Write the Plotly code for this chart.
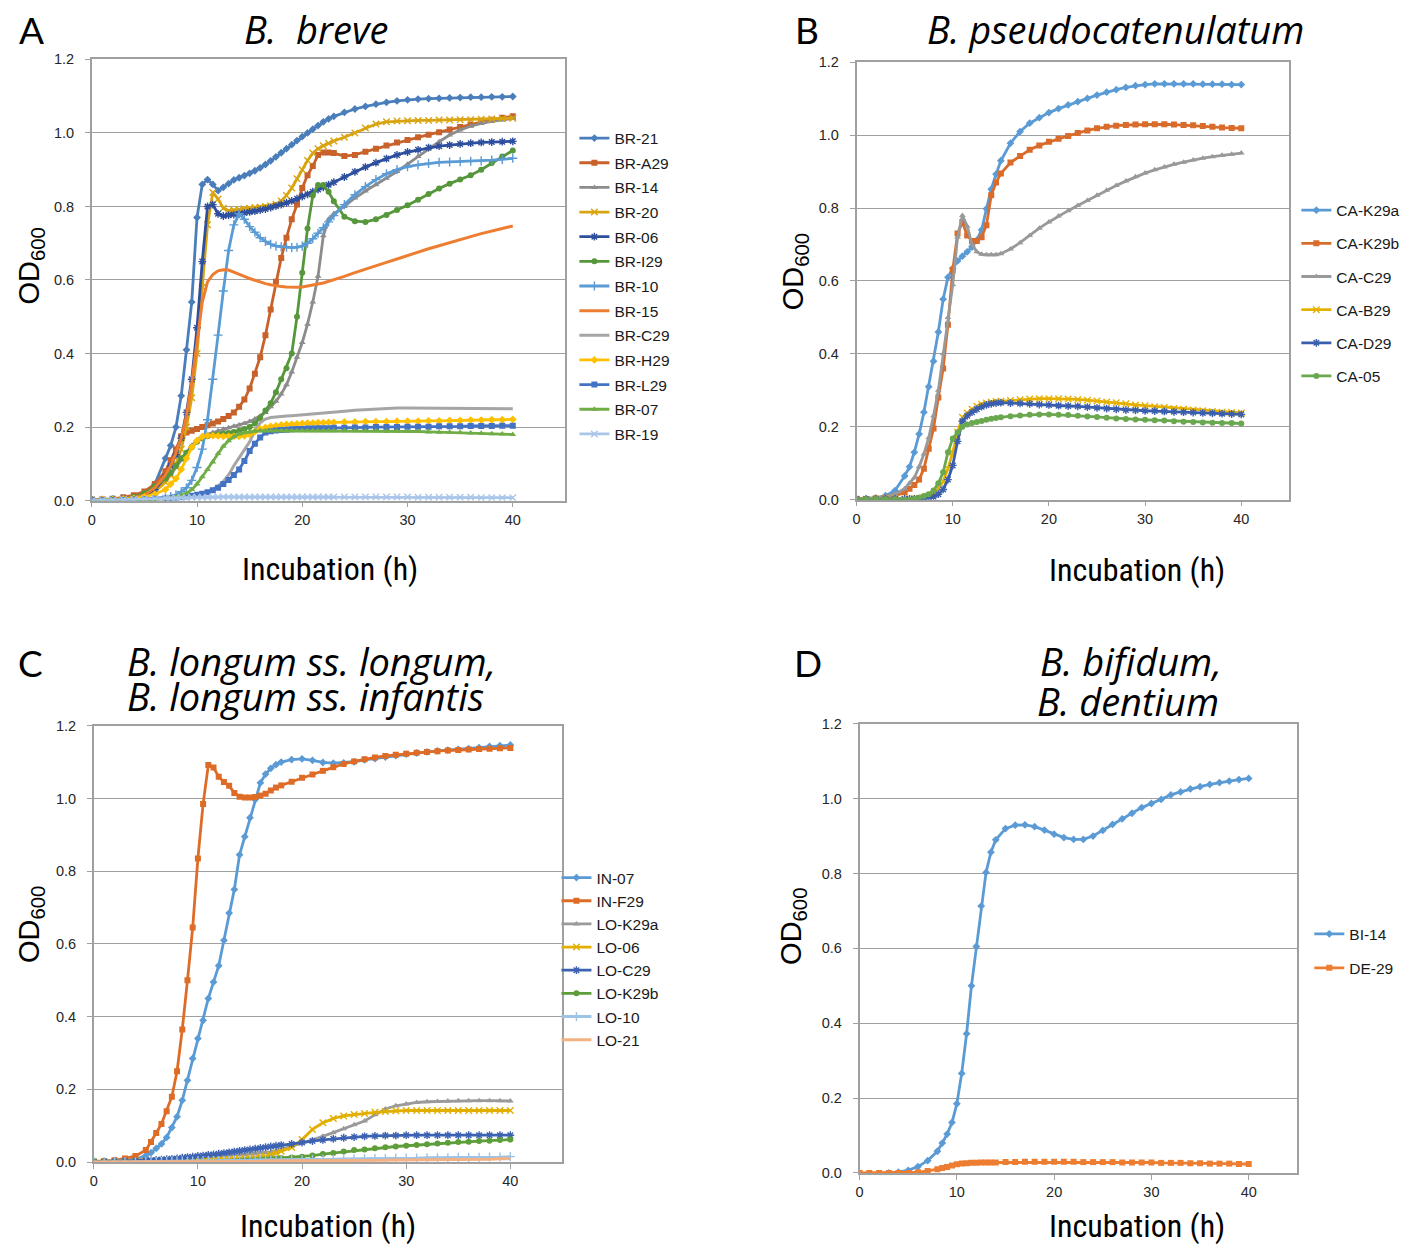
import plotly.graph_objects as go

W, H = 1418, 1257

# ---------------- Panel A: B. breve ----------------
T_A = [0, 1, 2, 3, 4, 5, 6, 7, 7.5, 8, 8.5, 9, 9.5, 10, 10.5, 11, 11.5, 12, 12.5, 13, 13.5, 14, 14.5, 15,
       15.5, 16, 16.5, 17, 17.5, 18, 18.5, 19, 19.5, 20, 20.5, 21, 21.5, 22, 22.5, 23,
       24, 25, 26, 27, 28, 29, 30, 31, 32, 33, 34, 35, 36, 37, 38, 39, 40]
BR_21 = [0.002, 0.002, 0.003, 0.005, 0.009, 0.02, 0.045, 0.115,
         0.15, 0.2, 0.285, 0.41, 0.54, 0.77, 0.86, 0.873, 0.86, 0.843, 0.852, 0.862, 0.872, 0.878, 0.884, 0.89,
         0.897, 0.905, 0.914, 0.924, 0.935, 0.946, 0.957, 0.968, 0.979, 0.99, 1.0, 1.01, 1.02, 1.03, 1.038, 1.045,
         1.056, 1.065, 1.072, 1.078, 1.083, 1.087, 1.09, 1.092, 1.093, 1.094, 1.095, 1.096, 1.097, 1.097, 1.098, 1.098, 1.099]
BR_A29 = [0.003, 0.003, 0.005, 0.009, 0.015, 0.025, 0.045, 0.08,
          0.11, 0.14, 0.175, 0.185, 0.19, 0.195, 0.2, 0.205, 0.21, 0.215, 0.222, 0.23, 0.24, 0.255, 0.275, 0.305,
          0.345, 0.39, 0.45, 0.52, 0.595, 0.66, 0.715, 0.765, 0.805, 0.85, 0.885, 0.91, 0.94, 0.947, 0.947, 0.945,
          0.937, 0.94, 0.949, 0.957, 0.966, 0.974, 0.981, 0.988, 0.995, 1.002, 1.009, 1.016, 1.023, 1.03, 1.036, 1.041, 1.045]
BR_14 = [0.002, 0.002, 0.003, 0.005, 0.008, 0.015, 0.03, 0.055,
         0.07, 0.09, 0.11, 0.13, 0.15, 0.165, 0.175, 0.18, 0.185, 0.19, 0.194, 0.198, 0.202, 0.206, 0.21, 0.215,
         0.222, 0.23, 0.24, 0.255, 0.27, 0.29, 0.315, 0.35, 0.39, 0.43, 0.48, 0.54, 0.61, 0.72, 0.765, 0.78,
         0.8, 0.823, 0.842, 0.859, 0.877, 0.895, 0.915, 0.936, 0.956, 0.976, 0.994, 1.008, 1.018, 1.026, 1.031, 1.035, 1.039]
BR_20 = [0.002, 0.002, 0.003, 0.004, 0.007, 0.013, 0.025, 0.05,
         0.07, 0.1, 0.14, 0.2, 0.28, 0.4, 0.58, 0.75, 0.838, 0.82, 0.795, 0.788, 0.79, 0.792, 0.794, 0.795,
         0.797, 0.798, 0.8, 0.802, 0.806, 0.815, 0.83, 0.85, 0.875, 0.9, 0.925, 0.945, 0.957, 0.965, 0.972, 0.978,
         0.988, 1.0, 1.013, 1.024, 1.03, 1.032, 1.033, 1.034, 1.034, 1.035, 1.035, 1.036, 1.036, 1.037, 1.038, 1.039, 1.04]
BR_06 = [0.002, 0.002, 0.003, 0.005, 0.008, 0.015, 0.03, 0.065,
         0.095, 0.125, 0.17, 0.24, 0.33, 0.47, 0.65, 0.8, 0.805, 0.78, 0.774, 0.776, 0.778, 0.78, 0.782, 0.785,
         0.787, 0.79, 0.793, 0.797, 0.801, 0.805, 0.81, 0.815, 0.821, 0.827, 0.833, 0.84, 0.846, 0.852, 0.859, 0.866,
         0.88, 0.894, 0.907, 0.919, 0.93, 0.94, 0.948, 0.954, 0.96, 0.964, 0.967, 0.97, 0.972, 0.974, 0.975, 0.976, 0.977]
BR_I29 = [0.002, 0.002, 0.003, 0.005, 0.01, 0.02, 0.04, 0.06,
          0.075, 0.095, 0.115, 0.13, 0.145, 0.16, 0.17, 0.175, 0.178, 0.18, 0.182, 0.184, 0.187, 0.19, 0.195, 0.2,
          0.21, 0.225, 0.245, 0.265, 0.295, 0.33, 0.36, 0.4, 0.5, 0.62, 0.74, 0.83, 0.858, 0.858, 0.84, 0.814,
          0.772, 0.76, 0.758, 0.765, 0.777, 0.79, 0.803, 0.818, 0.834, 0.849, 0.862, 0.873, 0.885, 0.9, 0.918, 0.936, 0.952]
BR_10 = [0.001, 0.001, 0.002, 0.002, 0.003, 0.004, 0.006, 0.008,
         0.011, 0.016, 0.024, 0.035, 0.055, 0.09, 0.14, 0.22, 0.33, 0.45, 0.57, 0.68, 0.75, 0.78, 0.765, 0.745,
         0.73, 0.715, 0.705, 0.697, 0.692, 0.69, 0.689, 0.688, 0.689, 0.692, 0.7, 0.712, 0.727, 0.742, 0.758, 0.775,
         0.805, 0.832, 0.854, 0.873, 0.889, 0.9, 0.908, 0.913, 0.917, 0.92, 0.921, 0.922, 0.923, 0.924, 0.926, 0.928, 0.931]
BR_15 = [0.002, 0.002, 0.003, 0.005, 0.008, 0.015, 0.035, 0.07,
         0.095, 0.13, 0.17, 0.23, 0.32, 0.43, 0.54, 0.595, 0.615, 0.625, 0.628, 0.627, 0.622, 0.616, 0.61, 0.604,
         0.599, 0.594, 0.59, 0.587, 0.584, 0.582, 0.581, 0.58, 0.58, 0.581, 0.583, 0.586, 0.589, 0.592, 0.596, 0.6,
         0.61, 0.62, 0.63, 0.639, 0.648, 0.657, 0.667, 0.676, 0.685, 0.693, 0.702, 0.71, 0.718, 0.726, 0.733, 0.74, 0.747]
BR_C29 = [0.001, 0.001, 0.001, 0.002, 0.002, 0.003, 0.004, 0.005,
          0.006, 0.007, 0.008, 0.009, 0.01, 0.012, 0.016, 0.022, 0.03, 0.04, 0.052, 0.07, 0.095, 0.118, 0.138, 0.16,
          0.19, 0.212, 0.222, 0.226, 0.228, 0.229, 0.23, 0.231, 0.232, 0.233, 0.235, 0.236, 0.238, 0.239, 0.24, 0.241,
          0.243, 0.246, 0.248, 0.25, 0.251, 0.252, 0.252, 0.252, 0.252, 0.252, 0.252, 0.251, 0.251, 0.251, 0.25, 0.25, 0.25]
BR_H29 = [0.001, 0.002, 0.003, 0.004, 0.006, 0.01, 0.018, 0.03,
          0.045, 0.06, 0.085, 0.115, 0.145, 0.163, 0.174, 0.177, 0.177, 0.176, 0.175, 0.175, 0.175, 0.175, 0.176, 0.18,
          0.188, 0.195, 0.199, 0.202, 0.204, 0.206, 0.207, 0.208, 0.209, 0.21, 0.211, 0.211, 0.212, 0.212, 0.213, 0.213,
          0.214, 0.214, 0.215, 0.215, 0.215, 0.216, 0.216, 0.216, 0.217, 0.217, 0.218, 0.218, 0.219, 0.219, 0.22, 0.22, 0.221]
BR_L29 = [0.001, 0.001, 0.002, 0.002, 0.003, 0.004, 0.005, 0.006,
          0.007, 0.008, 0.009, 0.011, 0.013, 0.016, 0.019, 0.023, 0.028, 0.035, 0.045, 0.056, 0.07, 0.085, 0.108, 0.135,
          0.155, 0.172, 0.185, 0.189, 0.191, 0.192, 0.193, 0.194, 0.195, 0.195, 0.196, 0.196, 0.197, 0.197, 0.197, 0.198,
          0.198, 0.199, 0.199, 0.2, 0.2, 0.2, 0.201, 0.201, 0.201, 0.202, 0.202, 0.202, 0.203, 0.203, 0.203, 0.204, 0.204]
BR_07 = [0.0, 0.0, 0.001, 0.001, 0.002, 0.002, 0.003, 0.005,
         0.007, 0.01, 0.014, 0.02, 0.03, 0.045, 0.065, 0.085, 0.105, 0.128, 0.148, 0.163, 0.174, 0.181, 0.185, 0.187,
         0.189, 0.19, 0.19, 0.19, 0.19, 0.19, 0.19, 0.19, 0.19, 0.19, 0.19, 0.19, 0.19, 0.19, 0.19, 0.19,
         0.19, 0.19, 0.19, 0.19, 0.189, 0.189, 0.188, 0.188, 0.187, 0.186, 0.186, 0.185, 0.184, 0.183, 0.182, 0.181, 0.18]
BR_19 = [0.0, 0.001, 0.002, 0.003, 0.004, 0.005, 0.006, 0.007,
         0.007, 0.008, 0.008, 0.008, 0.009, 0.009, 0.009, 0.009, 0.01, 0.01, 0.01, 0.01, 0.01, 0.01, 0.01, 0.01,
         0.01, 0.01, 0.01, 0.01, 0.01, 0.01, 0.01, 0.01, 0.01, 0.01, 0.01, 0.01, 0.01, 0.01, 0.01, 0.01,
         0.01, 0.01, 0.01, 0.01, 0.01, 0.01, 0.01, 0.009, 0.009, 0.009, 0.009, 0.009, 0.009, 0.008, 0.008, 0.008, 0.008]

# ---------------- Panel B: B. pseudocatenulatum ----------------
T_B = [0, 1, 2, 3, 4, 5, 5.5, 6, 6.5, 7, 7.5, 8, 8.5, 9, 9.5, 10, 10.5, 11, 11.5, 12, 12.5, 13, 13.5, 14, 14.5, 15,
       16, 17, 18, 19, 20, 21, 22, 23, 24, 25, 26, 27, 28, 29, 30, 31, 32, 33, 34, 35, 36, 37, 38, 39, 40]
CA_K29a = [0.002, 0.003, 0.005, 0.011, 0.025, 0.065,
           0.09, 0.13, 0.18, 0.24, 0.31, 0.38, 0.46, 0.55, 0.61, 0.635, 0.655, 0.668, 0.68, 0.693, 0.712, 0.74, 0.798, 0.852, 0.893, 0.93,
           0.978, 1.01, 1.033, 1.048, 1.062, 1.073, 1.083, 1.092, 1.101, 1.11, 1.118, 1.125, 1.131, 1.136, 1.139,
           1.141, 1.141, 1.141, 1.141, 1.141, 1.14, 1.14, 1.14, 1.139, 1.139]
CA_K29b = [0.002, 0.002, 0.003, 0.005, 0.01, 0.02,
           0.03, 0.04, 0.055, 0.085, 0.14, 0.195, 0.28, 0.36, 0.48, 0.63, 0.73, 0.762, 0.725, 0.71, 0.71, 0.72, 0.753, 0.835, 0.87, 0.895,
           0.925, 0.943, 0.96, 0.972, 0.982, 0.99, 0.998, 1.006, 1.013, 1.019, 1.023, 1.026, 1.028, 1.029, 1.03,
           1.03, 1.03, 1.029, 1.028, 1.027, 1.025, 1.023, 1.021, 1.02, 1.019]
CA_C29 = [0.002, 0.003, 0.005, 0.008, 0.015, 0.03,
          0.045, 0.06, 0.09, 0.125, 0.17, 0.23, 0.3, 0.4, 0.5, 0.59, 0.72, 0.78, 0.75, 0.7, 0.68, 0.673, 0.672, 0.672, 0.672, 0.675,
          0.688, 0.705, 0.725, 0.745, 0.762, 0.778, 0.793, 0.807, 0.821, 0.835, 0.849, 0.862, 0.874, 0.886, 0.896,
          0.905, 0.913, 0.92, 0.926, 0.932, 0.937, 0.941, 0.945, 0.948, 0.951]
CA_B29 = [0.001, 0.001, 0.002, 0.002, 0.002, 0.002,
          0.002, 0.003, 0.004, 0.006, 0.01, 0.015, 0.03, 0.05, 0.085, 0.13, 0.185, 0.226, 0.238, 0.248, 0.256, 0.262, 0.265, 0.267, 0.269, 0.27,
          0.272, 0.274, 0.276, 0.277, 0.277, 0.277, 0.276, 0.275, 0.273, 0.271, 0.268, 0.266, 0.263, 0.26, 0.258,
          0.255, 0.253, 0.25, 0.248, 0.246, 0.244, 0.242, 0.24, 0.239, 0.238]
CA_D29 = [0.001, 0.001, 0.001, 0.002, 0.002, 0.002,
          0.002, 0.002, 0.003, 0.004, 0.006, 0.008, 0.015, 0.028, 0.055, 0.094, 0.16, 0.215, 0.23, 0.24, 0.248, 0.255, 0.26, 0.263, 0.265, 0.266,
          0.265, 0.264, 0.263, 0.261, 0.26, 0.258, 0.257, 0.256, 0.254, 0.252, 0.25, 0.248, 0.246, 0.245, 0.244,
          0.243, 0.242, 0.241, 0.24, 0.239, 0.238, 0.237, 0.236, 0.235, 0.234]
CA_05 = [0.001, 0.001, 0.001, 0.001, 0.001, 0.0,
         0.0, 0.002, 0.005, 0.01, 0.015, 0.025, 0.045, 0.075, 0.13, 0.168, 0.185, 0.2, 0.206, 0.21, 0.213, 0.216, 0.219, 0.222, 0.224, 0.226,
         0.229, 0.231, 0.233, 0.234, 0.234, 0.233, 0.232, 0.23, 0.228, 0.227, 0.225, 0.223, 0.221, 0.22, 0.219,
         0.218, 0.217, 0.215, 0.214, 0.213, 0.212, 0.211, 0.21, 0.21, 0.209]

# ---------------- Panel C: B. longum ----------------
T_C = [0, 1, 2, 3, 4, 5, 5.5, 6, 6.5, 7, 7.5, 8, 8.5, 9, 9.5, 10, 10.5, 11, 11.5, 12, 12.5, 13, 13.5, 14, 14.5, 15,
       15.5, 16, 16.5, 17, 17.5, 18, 19, 20, 21, 22, 23, 24, 25, 26, 27, 28, 29, 30, 31, 32, 33, 34, 35, 36, 37, 38, 39, 40]
IN_07 = [0.002, 0.002, 0.003, 0.005, 0.008, 0.018,
         0.026, 0.038, 0.05, 0.068, 0.095, 0.125, 0.17, 0.225, 0.285, 0.34, 0.39, 0.45, 0.495, 0.54, 0.61, 0.685, 0.75, 0.845, 0.895, 0.947,
         0.997, 1.043, 1.067, 1.083, 1.093, 1.1,
         1.107, 1.109, 1.105, 1.099, 1.097, 1.098, 1.101, 1.106, 1.11, 1.114, 1.118, 1.122, 1.125, 1.128, 1.131,
         1.133, 1.135, 1.137, 1.14, 1.143, 1.145, 1.147]
IN_F29 = [0.002, 0.003, 0.005, 0.01, 0.017, 0.033,
          0.055, 0.08, 0.105, 0.14, 0.18, 0.25, 0.365, 0.5, 0.645, 0.835, 0.985, 1.092, 1.085, 1.06, 1.045, 1.035, 1.015, 1.005, 1.003, 1.003,
          1.004, 1.008, 1.013, 1.022, 1.03, 1.036,
          1.046, 1.057, 1.066, 1.076, 1.086, 1.095, 1.102, 1.108, 1.113, 1.117, 1.12, 1.123, 1.126, 1.128, 1.13,
          1.132, 1.133, 1.135, 1.136, 1.137, 1.138, 1.139]
LO_K29a = [0.001, 0.002, 0.003, 0.004, 0.005, 0.006,
           0.006, 0.007, 0.007, 0.008, 0.009, 0.009, 0.01, 0.011, 0.012, 0.013, 0.014, 0.015, 0.016, 0.017, 0.018, 0.019, 0.02, 0.02, 0.021, 0.022,
           0.023, 0.025, 0.026, 0.028, 0.031, 0.035,
           0.044, 0.052, 0.061, 0.071, 0.081, 0.092, 0.103, 0.113, 0.13, 0.146, 0.155, 0.16, 0.164, 0.166, 0.167,
           0.168, 0.169, 0.169, 0.169, 0.169, 0.169, 0.168]
LO_06 = [0.0, 0.001, 0.001, 0.002, 0.002, 0.003,
         0.003, 0.003, 0.004, 0.004, 0.004, 0.005, 0.005, 0.005, 0.006, 0.006, 0.006, 0.007, 0.007, 0.007, 0.008, 0.008, 0.008, 0.009, 0.01, 0.011,
         0.012, 0.014, 0.016, 0.02, 0.025, 0.03,
         0.04, 0.062, 0.09, 0.108, 0.12, 0.127, 0.131, 0.134, 0.137, 0.139, 0.141, 0.142, 0.142, 0.142, 0.142,
         0.142, 0.142, 0.142, 0.142, 0.142, 0.142, 0.142]
LO_C29 = [0.001, 0.001, 0.002, 0.003, 0.004, 0.005,
          0.005, 0.006, 0.007, 0.008, 0.009, 0.01, 0.012, 0.014, 0.015, 0.017, 0.018, 0.02, 0.021, 0.023, 0.025, 0.027, 0.029, 0.031, 0.033, 0.035,
          0.037, 0.039, 0.041, 0.043, 0.045, 0.047,
          0.05, 0.054, 0.058, 0.061, 0.064, 0.067, 0.069, 0.071, 0.072, 0.073, 0.073, 0.074, 0.074, 0.074, 0.074,
          0.074, 0.074, 0.074, 0.074, 0.074, 0.074, 0.074]
LO_K29b = [0.0, 0.0, 0.0, -0.001, -0.002, -0.003,
           -0.004, -0.004, -0.005, -0.005, -0.005, -0.005, -0.005, -0.004, -0.004, -0.003, -0.003, -0.002, -0.001, 0.0, 0.001, 0.002, 0.003, 0.004, 0.005, 0.005,
           0.006, 0.007, 0.008, 0.009, 0.01, 0.011,
           0.013, 0.015, 0.018, 0.022, 0.025, 0.029, 0.033, 0.035, 0.038, 0.041, 0.043, 0.045, 0.047, 0.049, 0.051,
           0.053, 0.055, 0.056, 0.058, 0.059, 0.061, 0.062]
LO_10 = [0.0, 0.0, 0.001, 0.001, 0.001, 0.002,
         0.002, 0.002, 0.002, 0.002, 0.003, 0.003, 0.003, 0.003, 0.003, 0.004, 0.004, 0.004, 0.004, 0.004, 0.005, 0.005, 0.005, 0.005, 0.005, 0.005,
         0.006, 0.006, 0.006, 0.006, 0.006, 0.007,
         0.007, 0.007, 0.008, 0.008, 0.008, 0.009, 0.009, 0.01, 0.01, 0.01, 0.011, 0.011, 0.011, 0.012, 0.012,
         0.012, 0.013, 0.013, 0.013, 0.014, 0.014, 0.015]
LO_21 = [0.0, 0.0, 0.0, 0.0, 0.0, 0.0,
         0.0, 0.0, 0.0, 0.0, 0.0, 0.0, 0.001, 0.001, 0.001, 0.001, 0.001, 0.001, 0.001, 0.001, 0.002, 0.002, 0.002, 0.002, 0.002, 0.002,
         0.002, 0.002, 0.003, 0.003, 0.003, 0.003,
         0.003, 0.003, 0.004, 0.004, 0.004, 0.004, 0.005, 0.005, 0.005, 0.005, 0.006, 0.006, 0.006, 0.006, 0.007,
         0.007, 0.007, 0.008, 0.008, 0.008, 0.009, 0.009]

# ---------------- Panel D: B. bifidum, B. dentium ----------------
T_D = [0, 1, 2, 3, 4, 5, 6, 7, 8, 8.5, 9, 9.5, 10, 10.5, 11, 11.5, 12, 12.5, 13, 13.5, 14,
       15, 16, 17, 18, 19, 20, 21, 22, 23, 24, 25, 26, 27, 28, 29, 30, 31, 32, 33, 34, 35, 36, 37, 38, 39, 40]
BI_14 = [None, None, None, 0.0, 0.002, 0.007, 0.017, 0.033, 0.058,
         0.08, 0.104, 0.135, 0.185, 0.266, 0.372, 0.5, 0.605, 0.713, 0.803, 0.857, 0.89,
         0.92, 0.929, 0.93, 0.925, 0.916, 0.905, 0.896, 0.891, 0.891, 0.9, 0.915, 0.931, 0.946, 0.961, 0.976,
         0.987, 0.998, 1.01, 1.018, 1.026, 1.032, 1.038, 1.043, 1.047, 1.051, 1.054]
DE_29 = [0.0, 0.0, 0.0, 0.0, 0.0, 0.0, 0.002, 0.005, 0.01,
         0.013, 0.016, 0.02, 0.023, 0.025, 0.026, 0.027, 0.027, 0.028, 0.028, 0.028, 0.028,
         0.029, 0.029, 0.03, 0.03, 0.03, 0.03, 0.03, 0.03, 0.029, 0.029, 0.029, 0.029, 0.028, 0.028, 0.028,
         0.028, 0.027, 0.027, 0.027, 0.026, 0.026, 0.025, 0.025, 0.025, 0.024, 0.024]

X_TICKS = [0, 10, 20, 30, 40]
Y_TICKS = [0, 0.2, 0.4, 0.6, 0.8, 1.0, 1.2]

# name, data, colour, symbol  (symbol None -> line only)
SERIES_A = [("BR-21", BR_21, "#4A7EBB", "diamond"), ("BR-A29", BR_A29, "#C8622A", "square"),
            ("BR-14", BR_14, "#8C8C8C", "triangle-up"), ("BR-20", BR_20, "#D9A410", "x-thin"),
            ("BR-06", BR_06, "#2E4F9E", "asterisk"), ("BR-I29", BR_I29, "#55973A", "circle"),
            ("BR-10", BR_10, "#5B9BD5", "cross-thin"), ("BR-15", BR_15, "#ED7D31", None),
            ("BR-C29", BR_C29, "#A5A5A5", None), ("BR-H29", BR_H29, "#FFC000", "diamond"),
            ("BR-L29", BR_L29, "#4472C4", "square"), ("BR-07", BR_07, "#70AD47", "triangle-up"),
            ("BR-19", BR_19, "#A9C6EA", "x-thin")]
SERIES_B = [("CA-K29a", CA_K29a, "#5B9BD5", "diamond"), ("CA-K29b", CA_K29b, "#D96B2B", "square"),
            ("CA-C29", CA_C29, "#999999", "triangle-up"), ("CA-B29", CA_B29, "#E6B000", "x-thin"),
            ("CA-D29", CA_D29, "#3A5EAE", "asterisk"), ("CA-05", CA_05, "#6AA84F", "circle")]
SERIES_C = [("IN-07", IN_07, "#5B9BD5", "diamond"), ("IN-F29", IN_F29, "#DE6C26", "square"),
            ("LO-K29a", LO_K29a, "#9A9A9A", "triangle-up"), ("LO-06", LO_06, "#E2AE00", "x-thin"),
            ("LO-C29", LO_C29, "#3D62B2", "asterisk"), ("LO-K29b", LO_K29b, "#5E9E3A", "circle"),
            ("LO-10", LO_10, "#9DC3E6", "cross-thin"), ("LO-21", LO_21, "#F4B183", None)]
SERIES_D = [("BI-14", BI_14, "#5B9BD5", "diamond"), ("DE-29", DE_29, "#ED7D31", "square")]

fig = go.Figure()


def add_panel(times, series, idx):
    xa = "x" if idx == 1 else f"x{idx}"
    ya = "y" if idx == 1 else f"y{idx}"
    lg = "legend" if idx == 1 else f"legend{idx}"
    for name, vals, col, sym in series:
        if sym is None:
            fig.add_trace(go.Scatter(x=times, y=vals, name=name, mode="lines",
                                     line=dict(color=col, width=3), xaxis=xa, yaxis=ya,
                                     legend=lg, legendgroup=f"{idx}-{name}"))
        else:
            thin = sym in ("x-thin", "asterisk", "cross-thin")
            fig.add_trace(go.Scatter(
                x=times, y=vals, name=name, mode="lines+markers",
                line=dict(color=col, width=2.8),
                marker=dict(symbol=sym, size=6 if not thin else 6.5, color=col,
                            line=dict(color=col, width=1.4 if thin else 0)),
                xaxis=xa, yaxis=ya, legend=lg, legendgroup=f"{idx}-{name}"))


add_panel(T_A, SERIES_A, 1)
add_panel(T_B, SERIES_B, 2)
add_panel(T_C, SERIES_C, 3)
add_panel(T_D, SERIES_D, 4)

# plot areas in pixels: (left, right, top, bottom)
boxes = {1: (88, 563, 52, 499), 2: (855, 1289, 55, 498), 3: (90, 560, 727, 1169), 4: (858, 1297, 725, 1180)}
GRID = "#A0A0A0"
TICKFONT = dict(family="Liberation Sans, Arial, sans-serif", size=14.5, color="#262626")
layout = dict(width=W, height=H, autosize=False, margin=dict(l=0, r=0, t=0, b=0),
              paper_bgcolor="white", plot_bgcolor="white", showlegend=True)
for i, (l, r, t, b) in boxes.items():
    xs = "xaxis" if i == 1 else f"xaxis{i}"
    ys = "yaxis" if i == 1 else f"yaxis{i}"
    xa = "x" if i == 1 else f"x{i}"
    ya = "y" if i == 1 else f"y{i}"
    layout[xs] = dict(domain=[l / W, r / W], anchor=ya, range=[0, 45], tickvals=X_TICKS,
                      ticks="outside", ticklen=5, tickcolor=GRID, showline=True, linecolor=GRID,
                      linewidth=1.5, mirror=True, showgrid=False, zeroline=False, tickfont=TICKFONT)
    layout[ys] = dict(domain=[1 - b / H, 1 - t / H], anchor=xa, range=[0, 1.2], tickvals=Y_TICKS,
                      tickformat=".1f", ticks="outside", ticklen=5, tickcolor=GRID, showline=True,
                      linecolor=GRID, linewidth=1.5, mirror=True, showgrid=True, gridcolor=GRID,
                      gridwidth=1.2, zeroline=False, tickfont=TICKFONT, ticklabelstandoff=8)

LEGFONT = dict(family="Liberation Sans, Arial, sans-serif", size=15.5, color="#1a1a1a")
legpos = {1: (572, 115, 1.5), 2: (1296, 188, 10.0), 3: (554, 864, 0.0), 4: (1309, 921, 10.8)}
for i, (lx, ly, gap) in legpos.items():
    key = "legend" if i == 1 else f"legend{i}"
    layout[key] = dict(x=lx / W, y=1 - ly / H, xanchor="left", yanchor="top", font=LEGFONT,
                       bgcolor="rgba(0,0,0,0)", borderwidth=0, tracegroupgap=gap, itemwidth=30,
                       traceorder="grouped", itemclick=False)
fig.update_layout(**layout)

TITLE_FONT = dict(family="Open Sans, Lato, sans-serif", size=38, color="black")
LETTER_FONT = dict(family="Lato, Open Sans, sans-serif", size=37, color="black")
XLAB_FONT = dict(family="Liberation Sans Narrow, Arial Narrow, Roboto Condensed, Liberation Sans, sans-serif",
                 size=32, color="black")
YLAB_FONT = dict(family="Liberation Sans Narrow, Arial Narrow, Liberation Sans, sans-serif", size=29, color="black")


def ann(text, x, y, font, xanchor="center", **kw):
    fig.add_annotation(text=text, x=x / W, y=1 - y / H, xref="paper", yref="paper",
                       xanchor=xanchor, yanchor="middle", showarrow=False, font=font, **kw)


# panel letters
ann("A", 28, 22, LETTER_FONT)
ann("B", 805, 22, LETTER_FONT)
ann("C", 27, 663, LETTER_FONT)
ann("D", 806, 663, LETTER_FONT)

# titles
ann("<i>B.\u00a0 breve</i>", 313, 21, TITLE_FONT)
ann("<i>B. pseudocatenulatum</i>", 1115, 21, TITLE_FONT)
ann("<i>B. longum ss. longum,</i>", 121, 661, TITLE_FONT, xanchor="left")
ann("<i>B. longum ss. infantis</i>", 121, 697, TITLE_FONT, xanchor="left")
ann("<i>B. bifidum,</i>", 1130, 661, TITLE_FONT)
ann("<i>B. dentium</i>", 1127, 702, TITLE_FONT)

# axis titles
for cx, cy in [(327, 568), (1136, 569), (325, 1234), (1136, 1234)]:
    ann("Incubation (h)", cx, cy, XLAB_FONT)
for cx, cy in [(27, 261), (793, 267), (27, 928), (791, 930)]:
    ann("OD<sub>600</sub>", cx, cy, YLAB_FONT, textangle=-90)

fig.write_html("out.html")
